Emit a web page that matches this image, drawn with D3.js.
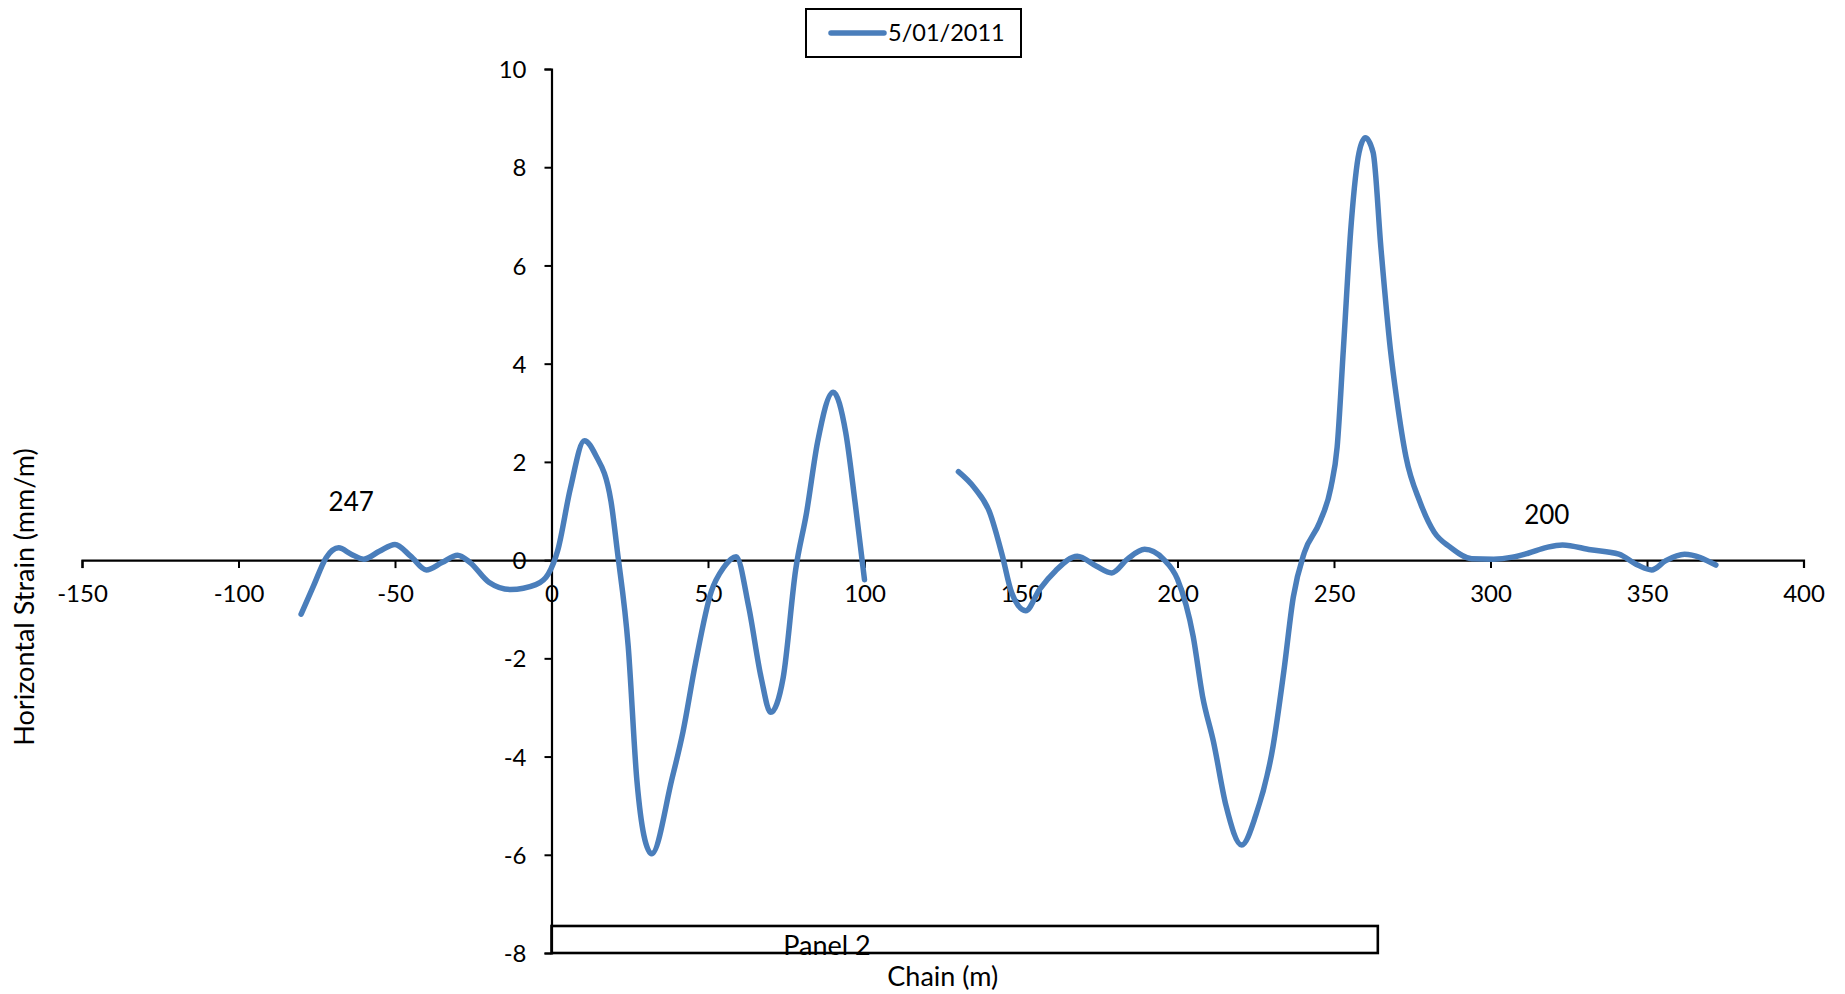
<!DOCTYPE html>
<html>
<head>
<meta charset="utf-8">
<script src="https://cdn.jsdelivr.net/npm/d3@7"></script>
<style>
  html, body { margin: 0; padding: 0; background: #fff; }
  svg { display: block; font-family: Lato, "Open Sans", sans-serif; }
</style>
</head>
<body>
<svg id="chart" width="1845" height="994"></svg>
<script>
// ---------- data ----------
const seriesName = "5/01/2011";
const chain = [
  -80, -76, -72, -68, -64, -60, -55, -50, -45, -40, -35, -30, -26, -20, -13, -5, -1,
  2, 6, 10.5, 14, 19, 21, 24.5, 27.3, 29.5, 32, 38.5, 42, 46, 51, 55, 59, 63, 67, 70, 74, 78, 81.5, 85, 90, 94, 97, 100,
  null,
  130, 135, 140, 144, 147, 151.5, 156, 161, 168, 174, 179, 184, 189.5, 195.5, 200,
  205, 208, 211.5, 215.5, 220.5, 225, 230.5, 234, 237, 240.5, 245.5, 249, 251, 253,
  255.5, 258, 260, 262.5, 265, 268, 270, 273, 277.5, 282, 287, 294, 301, 307, 312,
  318, 323, 332, 341, 347, 351.5, 356, 362, 372
];
const strain = [
  -1.1, -0.52, 0.05, 0.25, 0.12, 0.02, 0.18, 0.32, 0.08, -0.2, -0.05, 0.1, -0.05, -0.45, -0.6, -0.5, -0.28,
  0.2, 1.45, 2.43, 2.15, 1.2, 0.2, -1.75, -4.5, -5.6, -5.98, -4.45, -3.5, -2.1, -0.65, -0.15, 0.07, -0.95, -2.4, -3.1, -2.4, -0.2, 0.97, 2.4, 3.42, 2.6, 1.17, -0.4,
  null,
  1.8, 1.48, 0.97, 0.1, -0.66, -1.03, -0.59, -0.22, 0.08, -0.12, -0.26, 0.02, 0.22, 0.02, -0.39,
  -1.55, -2.77, -3.7, -5.0, -5.8, -5.2, -3.8, -2.25, -0.75, 0.15, 0.78, 1.48, 2.3, 4.3,
  6.85, 8.3, 8.6, 8.3, 6.35, 4.3, 3.3, 2.1, 1.18, 0.57, 0.27, 0.03, 0.02, 0.06, 0.14,
  0.26, 0.31, 0.21, 0.12, -0.1, -0.2, -0.01, 0.12, -0.1
];
const xTicks = [-150, -100, -50, 0, 50, 100, 150, 200, 250, 300, 350, 400];
const yTicks = [-8, -6, -4, -2, 0, 2, 4, 6, 8, 10];
const annotations = [
  { label: "247", chain: -64, strain: 1.0 },
  { label: "200", chain: 318, strain: 0.74 }
];
const panels = [{ label: "Panel 2", start: 0, end: 264, top: -7.45, bottom: -8, labelAt: 88 }];
const xTitle = "Chain (m)";
const yTitle = "Horizontal Strain (mm/m)";

// ---------- layout ----------
const svg = d3.select("#chart");
const x = d3.scaleLinear().domain([-150, 400]).range([82, 1803.5]);
const y = d3.scaleLinear().domain([-8, 10]).range([953, 69]);
const blue = "#4a7ebb";
const tickFont = 24;
const fmt = d => String(d);

// Panel box
const pg = svg.append("g");
panels.forEach(p => {
  pg.append("rect")
    .attr("x", x(p.start)).attr("y", y(p.top))
    .attr("width", x(p.end) - x(p.start)).attr("height", y(p.bottom) - y(p.top))
    .attr("fill", "#fff").attr("stroke", "#000").attr("stroke-width", 2.6);
  pg.append("text")
    .attr("x", x(p.labelAt)).attr("y", y(p.bottom) + 2)
    .attr("text-anchor", "middle").attr("font-size", 27).attr("fill", "#000")
    .text(p.label);
});

// X axis (through zero)
const xAxis = svg.append("g")
  .attr("transform", `translate(0,${y(0)})`)
  .call(d3.axisBottom(x).tickValues(xTicks).tickFormat(fmt).tickSizeOuter(0).tickSize(8));
xAxis.select(".domain").attr("stroke", "#000").attr("stroke-width", 2.2);
xAxis.selectAll(".tick line").attr("stroke", "#000").attr("stroke-width", 2);
xAxis.selectAll(".tick text").attr("y", 42).attr("dy", 0)
  .attr("font-size", tickFont).attr("font-family", "Lato, 'Open Sans', sans-serif").attr("fill", "#000");

// Y axis (at zero)
const yAxis = svg.append("g")
  .attr("transform", `translate(${x(0)},0)`)
  .call(d3.axisLeft(y).tickValues(yTicks).tickFormat(fmt).tickSizeOuter(0).tickSize(7));
yAxis.select(".domain").attr("stroke", "#000").attr("stroke-width", 2.2);
yAxis.selectAll(".tick line").attr("stroke", "#000").attr("stroke-width", 2);
yAxis.selectAll(".tick text").attr("x", -25).attr("dy", "0.36em")
  .attr("font-size", tickFont).attr("font-family", "Lato, 'Open Sans', sans-serif").attr("fill", "#000");

// Series line
const pts = chain.map((c, i) => [c, strain[i]]);
const line = d3.line()
  .defined(d => d[0] != null && d[1] != null)
  .x(d => x(d[0])).y(d => y(d[1]))
  .curve(d3.curveMonotoneX);
svg.append("path")
  .datum(pts)
  .attr("d", line)
  .attr("fill", "none").attr("stroke", blue).attr("stroke-width", 5.5)
  .attr("stroke-linecap", "round").attr("stroke-linejoin", "round");

// Annotations
annotations.forEach(a => {
  svg.append("text")
    .attr("x", x(a.chain)).attr("y", y(a.strain))
    .attr("text-anchor", "middle").attr("font-size", 26).attr("fill", "#000")
    .text(a.label);
});

// Axis titles
svg.append("text")
  .attr("x", x(125)).attr("y", 986)
  .attr("text-anchor", "middle").attr("font-size", 27).attr("fill", "#000")
  .text(xTitle);
svg.append("text")
  .attr("transform", `translate(34,597) rotate(-90)`)
  .attr("text-anchor", "middle").attr("font-size", 27).attr("fill", "#000")
  .text(yTitle);

// Legend
const lg = svg.append("g");
lg.append("rect").attr("x", 806).attr("y", 9).attr("width", 215).attr("height", 48)
  .attr("fill", "#fff").attr("stroke", "#000").attr("stroke-width", 2);
lg.append("line").attr("x1", 831).attr("x2", 884).attr("y1", 33).attr("y2", 33)
  .attr("stroke", blue).attr("stroke-width", 5.5).attr("stroke-linecap", "round");
lg.append("text").attr("x", 888).attr("y", 41).attr("font-size", 23.5).attr("fill", "#000")
  .text(seriesName);
</script>
</body>
</html>
